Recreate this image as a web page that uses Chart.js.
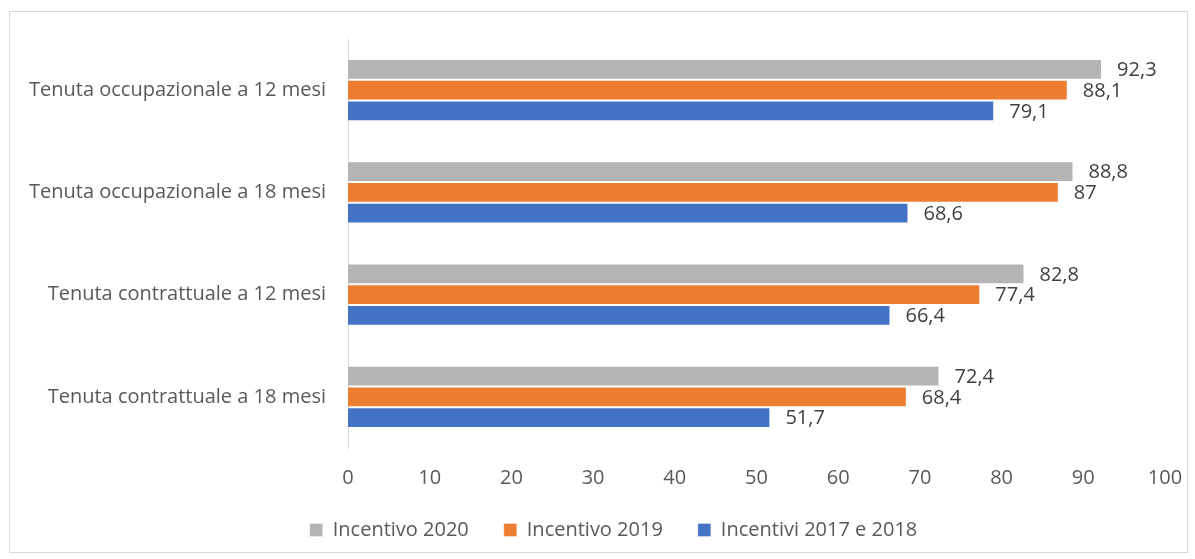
<!DOCTYPE html>
<html>
<head>
<meta charset="utf-8">
<script src="https://cdn.jsdelivr.net/npm/chart.js@4"></script>
<style>
  html, body { margin: 0; padding: 0; background: #fff; }
  #wrap { position: absolute; left: 0; top: 0; width: 1195px; height: 559px; }
  #frame { position: absolute; left: 9px; top: 11px; width: 1177px; height: 540px; border: 1px solid #d9d9d9; }
</style>
</head>
<body>
<div id="frame"></div>
<div id="wrap"><canvas id="myChart"></canvas></div>
<script>
const categories = [
    'Tenuta occupazionale a 12 mesi',
    'Tenuta occupazionale a 18 mesi',
    'Tenuta contrattuale a 12 mesi',
    'Tenuta contrattuale a 18 mesi'
];
const incentivo2020 = [92.3, 88.8, 82.8, 72.4];
const incentivo2019 = [88.1, 87, 77.4, 68.4];
const incentivi2017e2018 = [79.1, 68.6, 66.4, 51.7];
const xTicks = [0, 10, 20, 30, 40, 50, 60, 70, 80, 90, 100];

const font = "'Open Sans', 'Liberation Sans', sans-serif";

// etichette dei valori a destra delle barre
const valueLabels = {
    id: 'valueLabels',
    afterDatasetsDraw(chart) {
        const c = chart.ctx;
        c.save();
        c.font = '20px ' + font;
        c.fillStyle = '#404040';
        c.textAlign = 'left';
        c.textBaseline = 'middle';
        chart.data.datasets.forEach((ds, i) => {
            chart.getDatasetMeta(i).data.forEach((bar, j) => {
                const txt = String(ds.data[j]).replace('.', ',');
                c.fillText(txt, bar.x + 15, bar.y + 1);
            });
        });
        c.restore();
    }
};

// sposta la legenda come nell'originale
const legendShift = {
    id: 'legendShift',
    afterLayout(chart) {
        const lg = chart.legend;
        lg.left = 62;
        lg.top -= 5;
        lg.bottom -= 5;
    }
};

const ctx = document.getElementById('myChart');

new Chart(ctx, {
    type: 'bar',
    data: {
        labels: categories,
        datasets: [{
            label: 'Incentivo 2020',
            data: incentivo2020,
            backgroundColor: '#B4B4B4',
            borderColor: 'rgba(255,255,255,0.35)',
            borderWidth: 1
        }, {
            label: 'Incentivo 2019',
            data: incentivo2019,
            backgroundColor: '#ED7D31',
            borderColor: 'rgba(255,255,255,0.35)',
            borderWidth: 1
        }, {
            label: 'Incentivi 2017 e 2018',
            data: incentivi2017e2018,
            backgroundColor: '#4472C4',
            borderColor: 'rgba(255,255,255,0.35)',
            borderWidth: 1
        }]
    },
    plugins: [valueLabels, legendShift],
    options: {
        indexAxis: 'y',
        responsive: true,
        maintainAspectRatio: false,
        animation: false,
        categoryPercentage: 0.61,
        barPercentage: 1,
        layout: {
            padding: { top: 39, right: 30, left: 0, bottom: 4 }
        },
        scales: {
            x: {
                min: 0,
                max: 100,
                afterBuildTicks: s => { s.ticks = xTicks.map(v => ({ value: v })); },
                afterFit: s => {
                    s.height = 42;
                    s.paddingLeft = 0;
                    s.paddingRight = 0;
                },
                grid: { display: false, drawTicks: false },
                border: { display: false },
                ticks: {
                    color: '#595959',
                    font: { family: font, size: 20 },
                    padding: 18
                }
            },
            y: {
                afterFit: s => { s.width = 348; },
                grid: { display: false, drawTicks: false },
                border: { display: true, color: '#d9d9d9', width: 1 },
                ticks: {
                    color: '#595959',
                    font: { family: font, size: 20 },
                    padding: 22
                }
            }
        },
        plugins: {
            legend: {
                position: 'bottom',
                labels: {
                    boxWidth: 13,
                    boxHeight: 13,
                    padding: 35,
                    color: '#595959',
                    font: { family: font, size: 20 }
                }
            },
            tooltip: { enabled: false }
        }
    }
});
</script>
</body>
</html>
